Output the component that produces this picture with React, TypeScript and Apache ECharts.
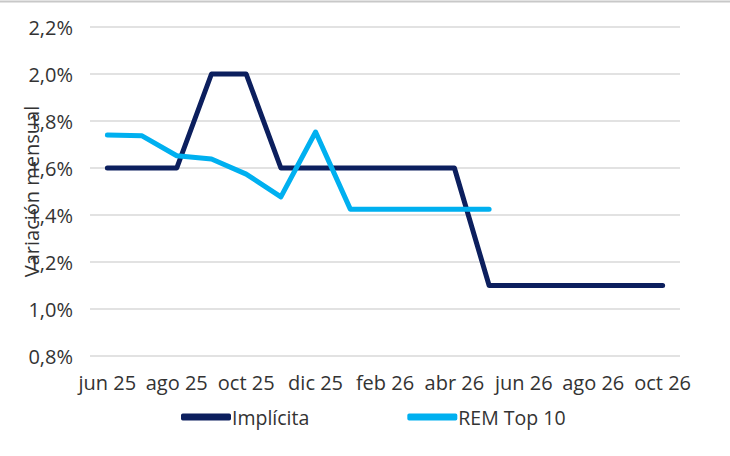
import React, { useEffect, useRef } from "react";
import * as echarts from "echarts";

const months = [
  "jun 25", "jul 25", "ago 25", "sep 25", "oct 25", "nov 25", "dic 25",
  "ene 26", "feb 26", "mar 26", "abr 26", "may 26", "jun 26", "jul 26",
  "ago 26", "sep 26", "oct 26",
];
const implicita = [1.6, 1.6, 1.6, 2.0, 2.0, 1.6, 1.6, 1.6, 1.6, 1.6, 1.6, 1.1, 1.1, 1.1, 1.1, 1.1, 1.1];
const remTop10 = [1.74, 1.737, 1.652, 1.638, 1.574, 1.477, 1.753, 1.425, 1.425, 1.425, 1.425, 1.425, null, null, null, null, null];
const seriesNames = ["Implícita", "REM Top 10"];
const yAxisName = "Variación mensual";

export default function App() {
  const ref = useRef<HTMLDivElement>(null);
  useEffect(() => {
    const chart = echarts.init(ref.current!, null, { renderer: "svg" });
    const font = "'Open Sans', 'Noto Sans', sans-serif";
    const txt = "#333333";
    chart.setOption({
      animation: false,
      backgroundColor: "#ffffff",
      textStyle: { fontFamily: font },
      graphic: [
        { type: "line", shape: { x1: 0, y1: 1.5, x2: 730, y2: 1.5 }, style: { stroke: "#c8c8c8", lineWidth: 2 } },
      ],
      grid: { left: 90, right: 50, top: 27, bottom: 100, containLabel: false, outerBoundsMode: "none" },
      legend: {
        data: seriesNames,
        bottom: 24,
        left: 176,
        itemWidth: 50,
        itemHeight: 7,
        itemGap: 98,
        icon: "roundRect",
        textStyle: { fontSize: 19.5, color: txt, fontFamily: font, padding: [0, 0, 0, -4] },
      },
      xAxis: {
        type: "category",
        data: months,
        boundaryGap: true,
        axisLine: { show: false },
        axisTick: { show: false },
        axisLabel: { interval: 1, fontSize: 20, color: txt, margin: 16, fontFamily: font },
      },
      yAxis: {
        type: "value",
        min: 0.8,
        max: 2.2,
        interval: 0.2,
        name: yAxisName,
        nameLocation: "middle",
        nameGap: 49,
        nameMoveOverlap: false,
        nameTextStyle: { fontSize: 20, color: txt, fontFamily: font },
        axisLabel: {
          fontSize: 20,
          color: txt,
          margin: 17,
          fontFamily: font,
          formatter: (v: number) => v.toFixed(1).replace(".", ",") + "%",
        },
        splitLine: { lineStyle: { color: "#d9d9d9", width: 1.5 } },
      },
      series: [
        {
          name: seriesNames[0],
          type: "line",
          data: implicita,
          showSymbol: false,
          symbol: "none",
          lineStyle: { color: "#0c1f5e", width: 5, cap: "round", join: "round" },
          itemStyle: { color: "#0c1f5e" },
        },
        {
          name: seriesNames[1],
          type: "line",
          data: remTop10,
          showSymbol: false,
          symbol: "none",
          lineStyle: { color: "#00b0f0", width: 5, cap: "round", join: "round" },
          itemStyle: { color: "#00b0f0" },
        },
      ],
    });
    return () => chart.dispose();
  }, []);
  return (
    <div
      ref={ref}
      style={{ position: "fixed", left: 0, top: 0, width: 730, height: 456, background: "#fff" }}
    />
  );
}
